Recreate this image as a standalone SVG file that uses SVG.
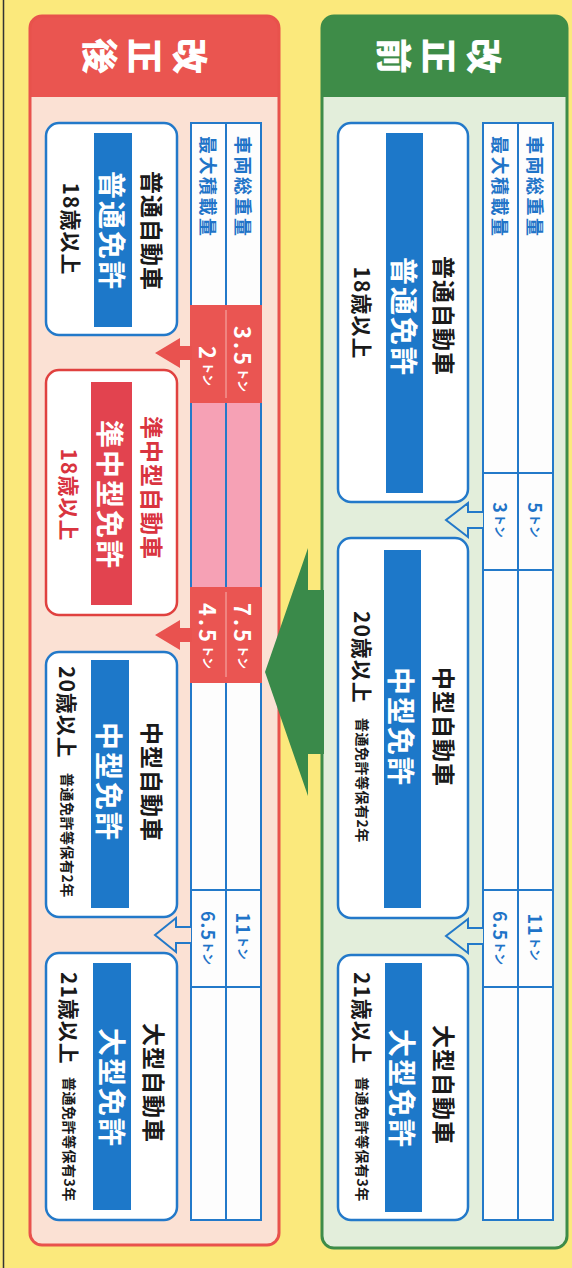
<svg xmlns="http://www.w3.org/2000/svg" width="572" height="1268" viewBox="0 0 572 1268">
<style>
.t{font-family:"Noto Sans CJK JP","Noto Sans CJK SC",sans-serif;font-weight:700;text-anchor:middle;dominant-baseline:central}
.st{text-anchor:start}
.title{font-size:36px;fill:#fff;font-weight:900}
.name{font-size:23px;fill:#1a1a1a;letter-spacing:1px}
.lic{font-size:28px;fill:#fff;letter-spacing:2px}
.age{font-size:21px;fill:#1a1a1a;letter-spacing:1px}
.note{font-size:14px;fill:#1a1a1a;letter-spacing:0.5px}
.hdr{font-size:18px;fill:#1f74c8;letter-spacing:2.5px}
.ton{font-size:18px;fill:#1f74c8;letter-spacing:1px}
.tonw{font-size:22px;fill:#fff;letter-spacing:3px}
.u{font-size:12px;letter-spacing:0}
.box{fill:#fff;stroke:#2379c9;stroke-width:2.5}
.bar{fill:#1d78c9}
.tl{stroke:#2379c9;stroke-width:2;fill:none}
.red{fill:#d9343f}
</style>
<rect width="572" height="1268" fill="#fbe97c"/>
<line x1="3.5" y1="0" x2="3.5" y2="1268" stroke="#333" stroke-width="1.5"/>

<g id="panel-before">
<rect x="322" y="16" width="245" height="1232" rx="12" fill="#3e8c48"/>
<rect x="322" y="97" width="245" height="1151" rx="12" fill="#e3eedb"/>
<rect x="322" y="97" width="245" height="20" fill="#e3eedb"/>
<rect x="322" y="16" width="245" height="1232" rx="12" fill="none" stroke="#3e8c48" stroke-width="3"/>
<text class="t title" transform="translate(486,56) rotate(90)">改</text>
<text class="t title" transform="translate(441,56) rotate(90)">正</text>
<text class="t title" transform="translate(396,56) rotate(90)">前</text>
</g>

<g id="panel-after">
<rect x="30" y="16" width="249" height="1229" rx="12" fill="#ea5550"/>
<rect x="30" y="97" width="249" height="1148" rx="12" fill="#fbe1d4"/>
<rect x="30" y="97" width="249" height="20" fill="#fbe1d4"/>
<rect x="30" y="16" width="249" height="1229" rx="12" fill="none" stroke="#e8524c" stroke-width="3"/>
<text class="t title" transform="translate(192,56) rotate(90)">改</text>
<text class="t title" transform="translate(147,56) rotate(90)">正</text>
<text class="t title" transform="translate(102,56) rotate(90)">後</text>
</g>

<g id="table-before">
<rect x="483" y="123" width="70" height="1097" fill="#fdfdfd"/>
<rect x="483" y="123" width="70" height="1097" class="tl"/>
<line x1="518" y1="123" x2="518" y2="1220" class="tl"/>
<line x1="483" y1="473" x2="553" y2="473" class="tl"/>
<line x1="483" y1="570" x2="553" y2="570" class="tl"/>
<line x1="483" y1="890" x2="553" y2="890" class="tl"/>
<line x1="483" y1="987" x2="553" y2="987" class="tl"/>
<text class="t st hdr" transform="translate(536,136) rotate(90)">車両総重量</text>
<text class="t st hdr" transform="translate(501,136) rotate(90)">最大積載量</text>
<text class="t ton" transform="translate(536,520) rotate(90)">5<tspan class="u">トン</tspan></text>
<text class="t ton" transform="translate(501,520) rotate(90)">3<tspan class="u">トン</tspan></text>
<text class="t ton" transform="translate(536,937) rotate(90)">11<tspan class="u">トン</tspan></text>
<text class="t ton" transform="translate(501,938) rotate(90)">6.5<tspan class="u">トン</tspan></text>
</g>

<g id="table-after">
<rect x="191" y="123" width="70" height="1097" fill="#fdfdfd"/>
<rect x="191" y="403" width="70" height="184" fill="#f6a1b5"/>
<rect x="191" y="123" width="70" height="1097" class="tl"/>
<line x1="226" y1="123" x2="226" y2="1220" class="tl"/>
<line x1="191" y1="890" x2="261" y2="890" class="tl"/>
<line x1="191" y1="987" x2="261" y2="987" class="tl"/>
<rect x="190" y="305" width="72" height="98" fill="#ea5552"/>
<rect x="190" y="587" width="72" height="96" fill="#ea5552"/>
<line x1="226" y1="310" x2="226" y2="398" stroke="#f7b3ae" stroke-width="1"/>
<line x1="226" y1="592" x2="226" y2="677" stroke="#f7b3ae" stroke-width="1"/>
<text class="t st hdr" transform="translate(244,136) rotate(90)">車両総重量</text>
<text class="t st hdr" transform="translate(209,136) rotate(90)">最大積載量</text>
<text class="t tonw" transform="translate(244,359) rotate(90)">3.5<tspan class="u">トン</tspan></text>
<text class="t tonw" transform="translate(209,366) rotate(90)">2<tspan class="u">トン</tspan></text>
<text class="t tonw" transform="translate(244,636) rotate(90)">7.5<tspan class="u">トン</tspan></text>
<text class="t tonw" transform="translate(209,636) rotate(90)">4.5<tspan class="u">トン</tspan></text>
<text class="t ton" transform="translate(244,936) rotate(90)">11<tspan class="u">トン</tspan></text>
<text class="t ton" transform="translate(209,938) rotate(90)">6.5<tspan class="u">トン</tspan></text>
</g>

<g id="connectors">
<path d="M483,512 H468 V503 L446,520 L468,537 V528 H483" fill="#e3eedb" stroke="#2379c9" stroke-width="2"/>
<path d="M483,928 H468 V919 L446,936 L468,953 V944 H483" fill="#e3eedb" stroke="#2379c9" stroke-width="2"/>
<path d="M191,927 H176 V918 L155,935 L176,952 V943 H191" fill="#fbe1d4" stroke="#2379c9" stroke-width="2"/>
<path d="M192,346 H180 V338 L155,353 L180,368 V360 H192 Z" fill="#e9524f"/>
<path d="M192,628 H180 V620 L155,635 L180,650 V642 H192 Z" fill="#e9524f"/>
<path d="M324,590 H308 V548 L265,672 L308,796 V754 H324 Z" fill="#3a8a4a"/>
</g>

<g id="before-normal">
<rect x="338" y="123" width="130" height="379" rx="13" class="box"/>
<rect x="386" y="133" width="37" height="360" class="bar"/>
<text class="t name" transform="translate(445,316) rotate(90)">普通自動車</text>
<text class="t lic" transform="translate(405,317) rotate(90)">普通免許</text>
<text class="t age" transform="translate(363,313) rotate(90)">18歳以上</text>
</g>

<g id="before-medium">
<rect x="338" y="538" width="130" height="380" rx="13" class="box"/>
<rect x="384" y="550" width="37" height="358" class="bar"/>
<text class="t name" transform="translate(445,727) rotate(90)">中型自動車</text>
<text class="t lic" transform="translate(402,727) rotate(90)">中型免許</text>
<text class="t st age" transform="translate(363,611) rotate(90)">20歳以上</text>
<text class="t st note" transform="translate(363,718) rotate(90)">普通免許等保有2年</text>
</g>

<g id="before-large">
<rect x="338" y="955" width="130" height="265" rx="13" class="box"/>
<rect x="385" y="963" width="37" height="249" class="bar"/>
<text class="t name" transform="translate(445,1085) rotate(90)">大型自動車</text>
<text class="t lic" transform="translate(403,1089) rotate(90)">大型免許</text>
<text class="t st age" transform="translate(363,972) rotate(90)">21歳以上</text>
<text class="t st note" transform="translate(363,1077) rotate(90)">普通免許等保有3年</text>
</g>

<g id="after-normal">
<rect x="46" y="123" width="131" height="212" rx="13" class="box"/>
<rect x="94" y="133" width="38" height="194" class="bar"/>
<text class="t name" transform="translate(153,231) rotate(90)">普通自動車</text>
<text class="t lic" transform="translate(113,231) rotate(90)">普通免許</text>
<text class="t age" transform="translate(72,229) rotate(90)">18歳以上</text>
</g>

<g id="after-semi-medium">
<rect x="46" y="370" width="131" height="245" rx="13" fill="#fff" stroke="#e0413f" stroke-width="2.5"/>
<rect x="91" y="382" width="41" height="223" fill="#e2434f"/>
<text class="t name red" transform="translate(153,488) rotate(90)">準中型自動車</text>
<text class="t lic" transform="translate(111,495) rotate(90)">準中型免許</text>
<text class="t age red" transform="translate(70,495) rotate(90)">18歳以上</text>
</g>

<g id="after-medium">
<rect x="46" y="652" width="131" height="265" rx="13" class="box"/>
<rect x="91" y="660" width="38" height="248" class="bar"/>
<text class="t name" transform="translate(153,782) rotate(90)">中型自動車</text>
<text class="t lic" transform="translate(110,782) rotate(90)">中型免許</text>
<text class="t st age" transform="translate(68,666) rotate(90)">20歳以上</text>
<text class="t st note" transform="translate(68,773) rotate(90)">普通免許等保有2年</text>
</g>

<g id="after-large">
<rect x="46" y="953" width="131" height="267" rx="13" class="box"/>
<rect x="93" y="963" width="38" height="247" class="bar"/>
<text class="t name" transform="translate(155,1083) rotate(90)">大型自動車</text>
<text class="t lic" transform="translate(113,1088) rotate(90)">大型免許</text>
<text class="t st age" transform="translate(70,972) rotate(90)">21歳以上</text>
<text class="t st note" transform="translate(70,1077) rotate(90)">普通免許等保有3年</text>
</g>
</svg>
